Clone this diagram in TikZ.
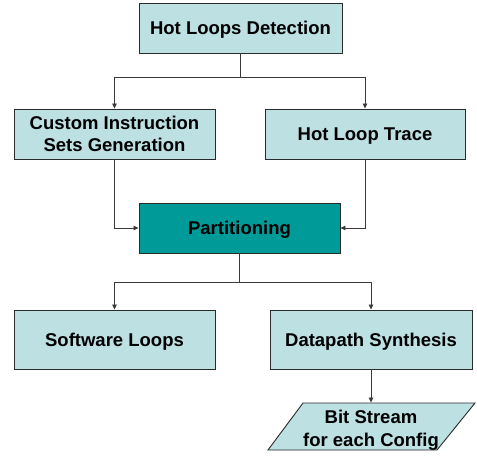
\documentclass[tikz,border=0pt]{standalone}
\usepackage{fontspec}
\setmainfont{Liberation Sans}
\usetikzlibrary{arrows.meta}
\definecolor{boxfill}{HTML}{BDE0E3}
\definecolor{tealfill}{HTML}{009A99}
\definecolor{edge}{HTML}{2A2A2A}
\definecolor{wire}{HTML}{3A3A3A}
\begin{document}
\begin{tikzpicture}[x=1pt,y=-1pt,
  box/.style={draw=edge,line width=0.9pt,fill=boxfill,align=center,
    font=\fontsize{18.5}{22.5}\selectfont\bfseries,inner sep=0pt,text depth=0pt},
  arr/.style={draw=wire,line width=0.8pt,-{Triangle[length=5pt,width=4.5pt]}},
  wireline/.style={draw=wire,line width=0.8pt}]
\useasboundingbox (0,0) rectangle (477,457);

% process boxes
\node[box,minimum width=203,minimum height=50] (detect) at (240.5,28) {Hot Loops Detection};
\node[box,minimum width=201,minimum height=50] (cis) at (114.5,134) {Custom Instruction\\Sets Generation};
\node[box,minimum width=200,minimum height=50] (trace) at (365,134) {Hot Loop Trace};
\node[box,fill=tealfill,minimum width=201,minimum height=50] (part) at (239.5,228) {Partitioning};
\node[box,minimum width=201,minimum height=59] (sw) at (114.5,339.5) {Software Loops};
\node[box,minimum width=202,minimum height=59] (dp) at (371,339.5) {Datapath Synthesis};

% output parallelogram
\node[box,draw=none,fill=none,minimum width=170,minimum height=47] (bits) at (371,426.5) {};
\draw[draw=edge,line width=0.9pt,fill=boxfill]
  ([shift={(-68,-23.5)}]bits.center) -- ([shift={(104,-23.5)}]bits.center)
  -- ([shift={(66,23.5)}]bits.center) -- ([shift={(-103,23.5)}]bits.center) -- cycle;
\node[box,draw=none,fill=none] at ([shift={(0,2)}]bits.center) {Bit Stream\\for each Config};

% junction points
\coordinate (j1) at (240.5,77);
\coordinate (j2) at (239.5,282);

% connectors
\draw[wireline] (detect.south) -- (j1);
\draw[arr] (j1) -| (cis.north);
\draw[arr] (j1) -| (trace.north);
\draw[arr] (cis.south) |- (part.west);
\draw[arr] (trace.south) |- (part.east);
\draw[wireline] (part.south) -- (j2);
\draw[arr] (j2) -| (sw.north);
\draw[arr] (j2) -| (dp.north);
\draw[arr] (dp.south) -- (bits.north);
\end{tikzpicture}
\end{document}
